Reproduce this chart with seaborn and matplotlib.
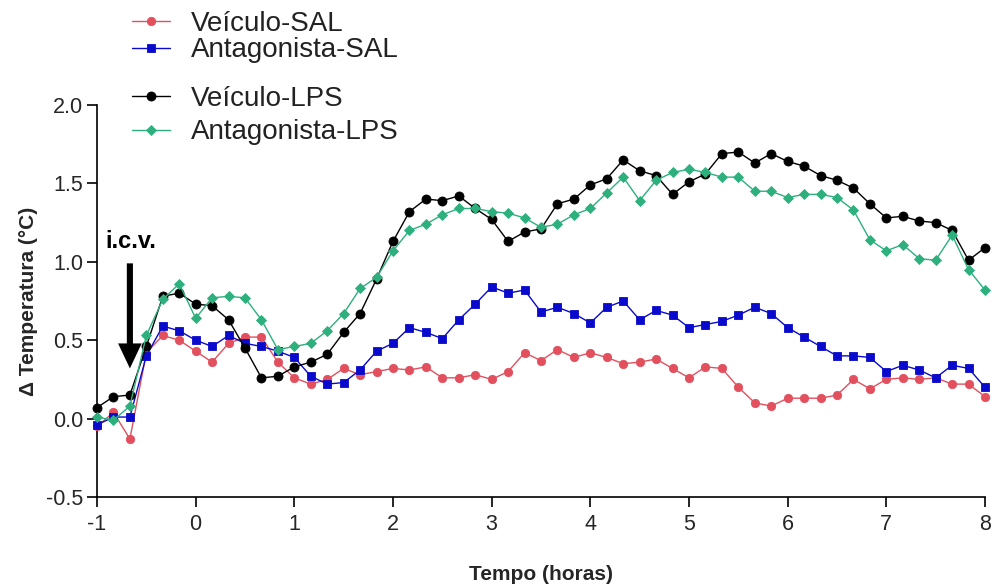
import numpy as np
import pandas as pd
import matplotlib
matplotlib.use("Agg")
import matplotlib.pyplot as plt
import seaborn as sns

# Sampling times (10-minute intervals, in hours relative to injection)
tempo_min = list(range(-60, 481, 10))

veiculo_sal = [-0.05, 0.04, -0.13, 0.42, 0.53, 0.50, 0.43, 0.36, 0.48, 0.52,
               0.52, 0.36, 0.26, 0.22, 0.25, 0.32, 0.28, 0.30, 0.32, 0.31,
               0.33, 0.26, 0.26, 0.28, 0.25, 0.30, 0.42, 0.37, 0.44, 0.39,
               0.42, 0.39, 0.35, 0.36, 0.38, 0.32, 0.26, 0.33, 0.32, 0.20,
               0.10, 0.08, 0.13, 0.13, 0.13, 0.15, 0.25, 0.19, 0.25, 0.26,
               0.25, 0.26, 0.22, 0.22, 0.14]

antagonista_sal = [-0.04, 0.01, 0.01, 0.40, 0.59, 0.56, 0.50, 0.46, 0.53, 0.48,
                   0.46, 0.43, 0.39, 0.27, 0.22, 0.23, 0.31, 0.43, 0.48, 0.58,
                   0.55, 0.51, 0.63, 0.73, 0.84, 0.80, 0.82, 0.68, 0.71, 0.67,
                   0.61, 0.71, 0.75, 0.63, 0.69, 0.66, 0.58, 0.60, 0.62, 0.66,
                   0.71, 0.67, 0.58, 0.52, 0.46, 0.40, 0.40, 0.39, 0.30, 0.34,
                   0.31, 0.26, 0.34, 0.32, 0.20]

veiculo_lps = [0.07, 0.14, 0.15, 0.46, 0.78, 0.80, 0.73, 0.72, 0.63, 0.45,
               0.26, 0.27, 0.33, 0.36, 0.41, 0.55, 0.67, 0.89, 1.13, 1.32,
               1.40, 1.39, 1.42, 1.34, 1.27, 1.13, 1.19, 1.21, 1.37, 1.40,
               1.49, 1.53, 1.65, 1.58, 1.55, 1.43, 1.51, 1.56, 1.69, 1.70,
               1.63, 1.69, 1.64, 1.61, 1.55, 1.52, 1.47, 1.37, 1.28, 1.29,
               1.26, 1.25, 1.20, 1.01, 1.09]

antagonista_lps = [0.01, -0.01, 0.08, 0.53, 0.76, 0.86, 0.64, 0.77, 0.78, 0.77,
                   0.63, 0.44, 0.46, 0.48, 0.56, 0.67, 0.83, 0.90, 1.07, 1.20,
                   1.24, 1.30, 1.34, 1.34, 1.32, 1.31, 1.28, 1.22, 1.24, 1.30,
                   1.34, 1.44, 1.54, 1.39, 1.52, 1.57, 1.59, 1.57, 1.54, 1.54,
                   1.45, 1.45, 1.41, 1.43, 1.43, 1.41, 1.33, 1.14, 1.07, 1.11,
                   1.02, 1.01, 1.17, 0.95, 0.82]

grupos = ["Veículo-SAL", "Antagonista-SAL", "Veículo-LPS", "Antagonista-LPS"]
valores = [veiculo_sal, antagonista_sal, veiculo_lps, antagonista_lps]
cores = ["#E2505E", "#0A0ACC", "#000000", "#2DB07E"]
marcadores = ["o", "s", "o", "D"]
tamanhos = [6.0, 6.0, 6.5, 5.6]

x_ticks = [-1, 0, 1, 2, 3, 4, 5, 6, 7, 8]
y_ticks = [-0.5, 0.0, 0.5, 1.0, 1.5, 2.0]

frames = []
for g, v in zip(grupos, valores):
    frames.append(pd.DataFrame({"Tempo": np.array(tempo_min) / 60.0,
                                "Temperatura": v, "Grupo": g}))
df = pd.concat(frames, ignore_index=True)

sns.set_style("ticks")
plt.rcParams["font.family"] = ["Liberation Sans", "DejaVu Sans"]
plt.rcParams["axes.unicode_minus"] = False

fig = plt.figure(figsize=(9.92, 5.85), dpi=100)
ax = fig.add_axes([97 / 992, 1 - 497 / 585, (985 - 97) / 992, (497 - 105) / 585])

for i, (g, c, m, s) in enumerate(zip(grupos, cores, marcadores, tamanhos)):
    sns.lineplot(data=df[df["Grupo"] == g], x="Tempo", y="Temperatura",
                 color=c, marker=m, markersize=s, markeredgecolor=c,
                 markeredgewidth=0.6, linewidth=1.0, errorbar=None,
                 label=g, ax=ax, clip_on=False, zorder=3 + i)

ax.set_xlim(-1, 8)
ax.set_ylim(-0.5, 2.0)
ax.set_xticks(x_ticks)
ax.set_xticklabels([str(t) for t in x_ticks])
ax.set_yticks(y_ticks)
ax.set_yticklabels([f"{t:.1f}" for t in y_ticks])
ax.tick_params(axis="both", direction="out", length=7, width=1.2,
               labelsize=15.5, labelcolor="#262626", color="black")
ax.tick_params(axis="y", pad=3)
ax.tick_params(axis="x", pad=5)
sns.despine(ax=ax)
for sp in ("left", "bottom"):
    ax.spines[sp].set_linewidth(1.2)
    ax.spines[sp].set_color("black")

ax.set_xlabel("Tempo (horas)", fontsize=15, fontweight="bold", labelpad=22)
ax.set_ylabel("Δ Temperatura (°C)", fontsize=15, fontweight="bold", labelpad=6)

# injection marker
ax.annotate("", xy=(-2 / 3, 0.32), xytext=(-2 / 3, 0.99),
            arrowprops=dict(arrowstyle="simple,head_length=0.9,head_width=0.85,tail_width=0.22",
                            mutation_scale=20, color="black", lw=0,
                            shrinkA=0, shrinkB=0), zorder=10)
ax.text(-0.655, 1.13, "i.c.v.", fontsize=17, fontweight="bold",
        ha="center", va="center", color="black")

# legend split in two blocks
handles, labels = ax.get_legend_handles_labels()
if ax.get_legend() is not None:
    ax.get_legend().remove()
leg_kw = dict(frameon=False, fontsize=20, handlelength=1.38, handletextpad=0.74,
              borderpad=0, borderaxespad=0, loc="center left",
              bbox_transform=fig.transFigure, labelcolor="#222222")
leg1 = ax.legend(handles[:2], labels[:2], labelspacing=0.03,
                 bbox_to_anchor=(132 / 992, 1 - 37 / 585), **leg_kw)
ax.add_artist(leg1)
leg2 = ax.legend(handles[2:], labels[2:], labelspacing=0.28,
                 bbox_to_anchor=(132 / 992, 1 - 115.5 / 585), **leg_kw)

fig.savefig("out.png", dpi=100)
